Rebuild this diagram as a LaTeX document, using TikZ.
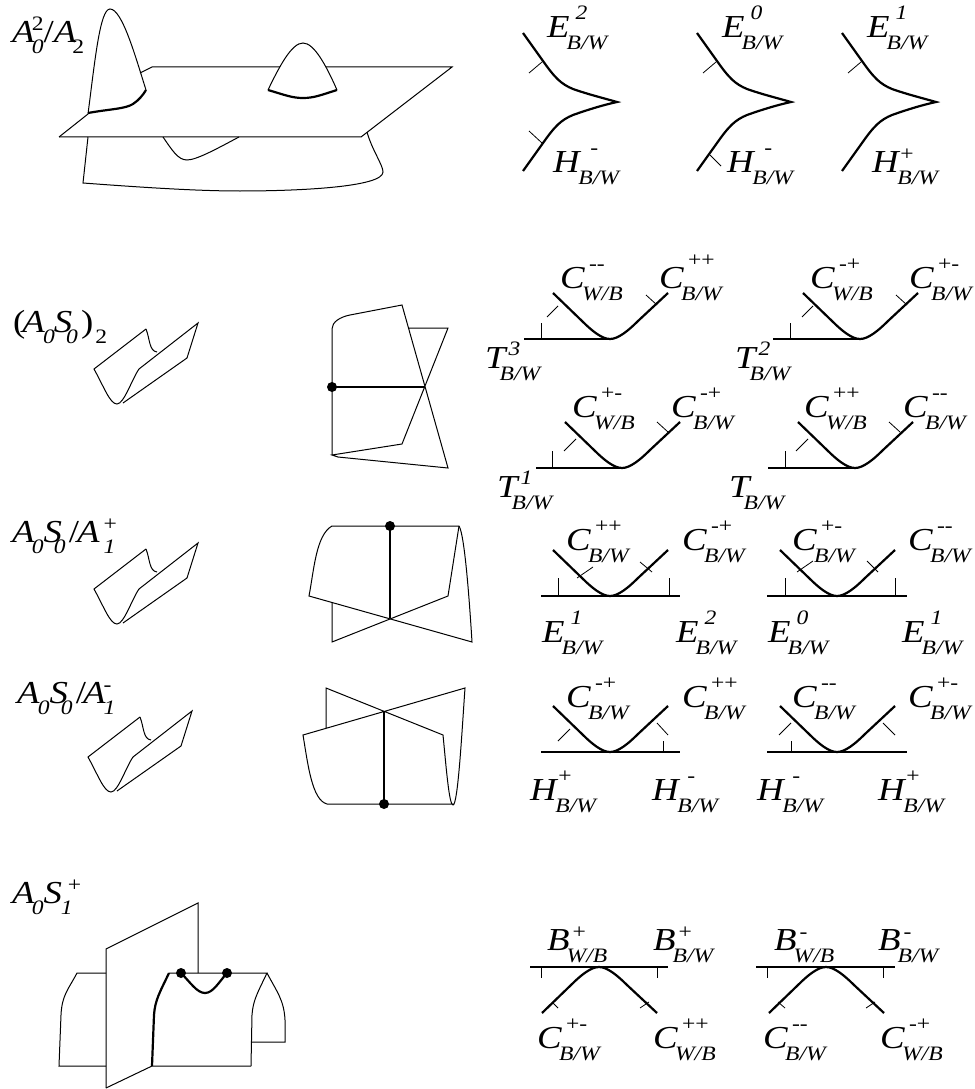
\documentclass[tikz,border=0pt]{standalone}
\usepackage{fontspec}
\setmainfont[FakeStretch=1.15]{Liberation Serif}

% letter with raised and lowered index: [kern of the upper one]{letter}{upper}{lower}
\newcommand{\sheet}[4][4pt]{\textit{#2}\rlap{\kern#1\raisebox{18pt}{\fontsize{20.5}{20}\selectfont #3}}\kern-3pt\raisebox{-12pt}{\fontsize{20.5}{20}\selectfont\textit{#4}}}
\newcommand{\lowidx}[1]{\raisebox{-11pt}{\fontsize{20.5}{20}\selectfont #1}}
\newcommand{\highidx}[1]{\raisebox{12pt}{\fontsize{20.5}{20}\selectfont #1}}
\newcommand{\dropped}[1]{\raisebox{-6pt}{#1}}

\begin{document}
\begin{tikzpicture}[
    x=1pt, y=-1pt,
    surf/.style={draw, line width=1pt, line join=miter},
    ridge/.style={draw, line width=2.2pt},
    tickmark/.style={draw, line width=0.8pt},
    dotpt/.style={circle, fill=black, inner sep=0pt, minimum size=10pt},
    sheetname/.style={anchor=base west, inner sep=0pt, font=\fontsize{32}{32}\selectfont},
    foldsurf/.pic={
        \draw[surf] (0,0) -- (-52,40) .. controls (-42,58) and (-36,75) .. (-29,75)
            .. controls (-22,75) and (-14,50) .. (-7,40) -- (52,-6) -- (41,29) -- (-23,74);
        \draw[surf] (0,0) .. controls (4,10) and (3,22) .. (11,23);
    },
    veearms/.pic={
        \draw[ridge] (-57,-46) -- (-28,-18) .. controls (-18,-8) and (-8,0) .. (0,0)
            .. controls (8,0) and (18,-8) .. (28,-18) -- (58,-46);
    },
    cuspedge/.pic={
        \draw[ridge] (-94,-69) -- (-74,-41) .. controls (-62,-24) and (-56,-18) .. (-44,-13)
            .. controls (-30,-8) and (-14,-4) .. (0,0)
            .. controls (-14,3) and (-30,8) .. (-44,13)
            .. controls (-56,18) and (-62,24) .. (-74,41) -- (-94,69);
    }
]
\useasboundingbox (0,0) rectangle (974,1089);

% First row: A_0^2/A_2
\node[sheetname] (titleA) at (12,43) {\textit{A}\kern-3pt\rlap{\lowidx{\textit{0}}}\highidx{2}/\textit{A}\kern-4pt\lowidx{2}};

\draw[surf] (59,137) -- (361,137) -- (452,67) -- (326,67);
\draw[surf] (280,67) -- (152,67) -- (140,73);
\draw[surf] (59,137) -- (88,114);
\draw[surf] (88,114) .. controls (95,60) and (100,9) .. (110,9)
    .. controls (122,9) and (135,55) .. (146,90);
\draw[ridge] (88,113) .. controls (110,109) and (125,109) .. (133,104) .. controls (139,100) and (143,95) .. (146,90);
\draw[surf] (268,90) .. controls (280,65) and (292,43) .. (303,43)
    .. controls (314,43) and (326,65) .. (337,90);
\draw[ridge] (268,90) .. controls (285,95) and (292,98) .. (303,98)
    .. controls (314,98) and (321,95) .. (337,90);
\draw[surf] (88,137) -- (83,183) .. controls (150,188) and (200,191) .. (240,191)
    .. controls (300,191) and (383,187) .. (383,172) .. controls (383,165) and (372,150) .. (367,132);
\draw[surf] (163,137) .. controls (172,150) and (178,160) .. (187,160)
    .. controls (197,160) and (220,147) .. (239,137);

\pic (cusp1) at (617,102) {cuspedge};
\pic (cusp2) at (791,102) {cuspedge};
\pic (cusp3) at (936,102) {cuspedge};
\draw[tickmark] (542,62) -- (529,73);
\draw[tickmark] (542,143) -- (529,131);
\draw[tickmark] (716,62) -- (703,73);
\draw[tickmark] (710,155) -- (721,166);
\draw[tickmark] (861,62) -- (848,73);

\node[sheetname] (e2top) at (547,38) {\sheet[6pt]{E}{\textit{2}}{B/W}};
\node[sheetname] (e0top) at (722,38) {\sheet[6pt]{E}{\textit{0}}{B/W}};
\node[sheetname] (e1top) at (867,38) {\sheet[6pt]{E}{\textit{1}}{B/W}};
\node[sheetname] (hmone) at (553,172) {\sheet[9pt]{H}{-}{B/W}};
\node[sheetname] (hmtwo) at (727,172) {\sheet[9pt]{H}{-}{B/W}};
\node[sheetname] (hptop) at (872,172) {\sheet[0pt]{H}{\dropped{+}}{B/W}};

% Second row: (A_0S_0)_2
\node[sheetname] (titleB) at (13,332) {(\kern-3pt\textit{A}\kern-2pt\lowidx{\textit{0}}\kern-1pt\textit{S}\kern-6pt\lowidx{\textit{0}}\kern3pt)\kern2pt\lowidx{2}};
\pic (foldB) at (146,329) {foldsurf};

\draw[surf] (332,455) -- (332,329) .. controls (332,322) and (340,317) .. (350,315) -- (402,305)
    -- (448,468) -- (338,457) -- (332,455) -- (402,444) -- (448,328) -- (408,328);
\draw[ridge] (332,387) -- (425,387);
\node[dotpt] (dotB) at (332,387) {};

\pic (veeA) at (610,339) {veearms};
\draw[ridge] (524,339) -- (613,339);
\draw[tickmark] (541,339) -- (541,323);
\draw[tickmark] (558,306) -- (547,317);
\draw[tickmark] (657,305) -- (646,295);

\pic (veeB) at (860,339) {veearms};
\draw[ridge] (773,339) -- (863,339);
\draw[tickmark] (790,339) -- (790,323);
\draw[tickmark] (813,306) -- (802,317);
\draw[tickmark] (907,305) -- (896,295);

\pic (veeC) at (622,468) {veearms};
\draw[ridge] (536,468) -- (625,468);
\draw[tickmark] (552,468) -- (552,451);
\draw[tickmark] (576,439) -- (564,451);
\draw[tickmark] (668,432) -- (657,422);

\pic (veeD) at (855,468) {veearms};
\draw[ridge] (768,468) -- (858,468);
\draw[tickmark] (785,468) -- (785,451);
\draw[tickmark] (808,439) -- (796,451);
\draw[tickmark] (900,432) -- (889,422);

\node[sheetname] (cmm) at (560,288) {\sheet{C}{-{}-}{W/B}};
\node[sheetname] (cpp) at (659,288) {\sheet{C}{\raisebox{4pt}{++}}{B/W}};
\node[sheetname] (cmp) at (810,288) {\sheet{C}{-+}{W/B}};
\node[sheetname] (cpm) at (909,288) {\sheet{C}{+-}{B/W}};
\node[sheetname] (tthree) at (485,368) {\sheet[6pt]{T\kern-3pt}{\raisebox{-5pt}{\textit{3}}}{B/W}};
\node[sheetname] (ttwo) at (735,368) {\sheet[6pt]{T\kern-3pt}{\raisebox{-5pt}{\textit{2}}}{B/W}};
\node[sheetname] (cpmb) at (572,417) {\sheet{C}{+-}{W/B}};
\node[sheetname] (cmpb) at (671,417) {\sheet{C}{-+}{B/W}};
\node[sheetname] (cppb) at (804,417) {\sheet{C}{++}{W/B}};
\node[sheetname] (cmmb) at (903,417) {\sheet{C}{-{}-}{B/W}};
\node[sheetname] (tone) at (497,497) {\sheet[6pt]{T\kern-3pt}{\raisebox{-5pt}{\textit{1}}}{B/W}};
\node[sheetname] (tzero) at (729,497) {\sheet[6pt]{T\kern-3pt}{}{B/W}};

% Third row: A_0S_0/A_1^+
\node[sheetname] (titleC) at (12,542) {\textit{A}\kern-3pt\lowidx{\textit{0}}\textit{S}\kern-8pt\lowidx{\textit{0}}\kern3pt/\kern-2pt\textit{A}\kern4pt\rlap{\lowidx{\textit{1}}}\highidx{+}};
\pic (foldC) at (146,549) {foldsurf};

\draw[surf] (332,526) -- (459,526) .. controls (465,535) and (470,610) .. (472,642)
    -- (309,596) .. controls (314,570) and (316,535) .. (332,526);
\draw[surf] (459,526) -- (448,596) -- (332,642) -- (332,602);
\draw[ridge] (390,526) -- (390,618);
\node[dotpt] (dotC) at (390,526) {};

\pic (veeE) at (610,596) {veearms};
\draw[ridge] (541,596) -- (680,596);
\draw[tickmark] (558,596) -- (558,578);
\draw[tickmark] (669,596) -- (669,578);
\draw[tickmark] (577,578) -- (593,567);
\draw[tickmark] (640,562) -- (652,572);

\pic (veeF) at (837,596) {veearms};
\draw[ridge] (767,596) -- (907,596);
\draw[tickmark] (785,596) -- (785,578);
\draw[tickmark] (895,596) -- (895,578);
\draw[tickmark] (797,572) -- (813,561);
\draw[tickmark] (867,561) -- (878,572);

\node[sheetname] (c3a) at (566,550) {\sheet{C}{++}{B/W}};
\node[sheetname] (c3b) at (682,550) {\sheet{C}{-+}{B/W}};
\node[sheetname] (c3c) at (792,550) {\sheet{C}{+-}{B/W}};
\node[sheetname] (c3d) at (908,550) {\sheet{C}{-{}-}{B/W}};
\node[sheetname] (e3a) at (542,642) {\sheet[6pt]{E}{\textit{1}}{B/W}};
\node[sheetname] (e3b) at (676,642) {\sheet[6pt]{E}{\textit{2}}{B/W}};
\node[sheetname] (e3c) at (768,642) {\sheet[6pt]{E}{\textit{0}}{B/W}};
\node[sheetname] (e3d) at (902,642) {\sheet[6pt]{E}{\textit{1}}{B/W}};

% Fourth row: A_0S_0/A_1^-
\node[sheetname] (titleD) at (17,703) {\textit{A}\kern-2pt\lowidx{\textit{0}}\textit{S}\kern-7pt\lowidx{\textit{0}}\kern3pt/\kern-3pt\textit{A}\kern-2pt\rlap{\lowidx{\textit{1}}}\highidx{-}};
\pic (foldD) at (140,717) {foldsurf};

\draw[surf] (326,728) -- (326,688) -- (443,735) .. controls (446,765) and (449,805) .. (453,805)
    .. controls (458,805) and (462,730) .. (465,688) -- (303,735)
    .. controls (308,765) and (312,800) .. (327,804) -- (453,804);
\draw[ridge] (384,712) -- (384,804);
\node[dotpt] (dotD) at (384,804) {};

\pic (veeG) at (610,752) {veearms};
\draw[ridge] (541,752) -- (680,752);
\draw[tickmark] (663,752) -- (663,741);
\draw[tickmark] (570,729) -- (558,741);
\draw[tickmark] (657,723) -- (668,735);

\pic (veeH) at (837,752) {veearms};
\draw[ridge] (767,752) -- (907,752);
\draw[tickmark] (791,752) -- (791,741);
\draw[tickmark] (791,723) -- (779,735);
\draw[tickmark] (883,723) -- (895,735);

\node[sheetname] (c4a) at (566,707) {\sheet{C}{-+}{B/W}};
\node[sheetname] (c4b) at (682,707) {\sheet{C}{++}{B/W}};
\node[sheetname] (c4c) at (792,707) {\sheet{C}{-{}-}{B/W}};
\node[sheetname] (c4d) at (908,707) {\sheet{C}{+-}{B/W}};
\node[sheetname] (h4a) at (530,800) {\sheet[0pt]{H}{+}{B/W}};
\node[sheetname] (h4b) at (652,800) {\sheet[7pt]{H}{-}{B/W}};
\node[sheetname] (h4c) at (757,800) {\sheet[7pt]{H}{-}{B/W}};
\node[sheetname] (h4d) at (878,800) {\sheet[0pt]{H}{+}{B/W}};

% Fifth row: A_0S_1^+
\node[sheetname] (titleE) at (12,903) {\textit{A}\kern-3pt\lowidx{\textit{0}}\textit{S}\kern-1pt\rlap{\lowidx{\textit{1}}}\kern7pt\highidx{+}};

\draw[surf] (106,973) -- (77,973) .. controls (68,990) and (62,995) .. (61,1015) -- (59,1066) -- (106,1066);
\draw[surf] (106,1088) -- (106,949) -- (198,903) -- (198,973);
\draw[surf] (106,1088) -- (152,1066) -- (251,1066);
\draw[surf] (169,973) -- (267,973) .. controls (258,992) and (253,1000) .. (252,1015) -- (251,1066);
\draw[surf] (267,973) .. controls (277,992) and (284,1000) .. (285,1020) -- (285,1042) -- (251,1042);
\draw[ridge] (169,973) .. controls (160,992) and (155,1000) .. (154,1015) -- (152,1066);
\draw[ridge] (181,973) .. controls (190,982) and (197,993) .. (205,993)
    .. controls (213,993) and (219,982) .. (227,973);
\node[dotpt] (dotE1) at (181,973) {};
\node[dotpt] (dotE2) at (227,973) {};

\pic[yscale=-1] (veeI) at (599,967) {veearms};
\draw[ridge] (530,967) -- (668,967);
\draw[tickmark] (541,967) -- (541,978);
\draw[tickmark] (657,967) -- (657,978);
\draw[tickmark] (552,1002) -- (558,1008);
\draw[tickmark] (649,1002) -- (640,1008);

\pic[yscale=-1] (veeJ) at (826,967) {veearms};
\draw[ridge] (756,967) -- (895,967);
\draw[tickmark] (767,967) -- (767,978);
\draw[tickmark] (883,967) -- (883,978);
\draw[tickmark] (778,1002) -- (785,1008);
\draw[tickmark] (875,1002) -- (866,1008);

\node[sheetname] (b5a) at (547,950) {\sheet[3pt]{B}{\dropped{+}}{W/B}};
\node[sheetname] (b5b) at (653,950) {\sheet[3pt]{B}{\dropped{+}}{B/W}};
\node[sheetname] (b5c) at (774,950) {\sheet[3pt]{B}{\dropped{-}}{W/B}};
\node[sheetname] (b5d) at (878,950) {\sheet[3pt]{B}{\dropped{-}}{B/W}};
\node[sheetname] (c5a) at (537,1048) {\sheet{C}{+-}{B/W}};
\node[sheetname] (c5b) at (653,1048) {\sheet{C}{++}{W/B}};
\node[sheetname] (c5c) at (763,1048) {\sheet{C}{-{}-}{B/W}};
\node[sheetname] (c5d) at (880,1048) {\sheet{C}{-+}{W/B}};

\end{tikzpicture}
\end{document}
